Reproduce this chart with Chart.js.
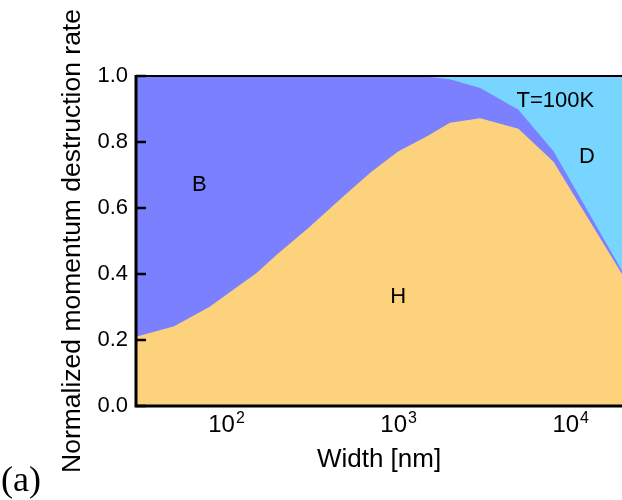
<!DOCTYPE html>
<html>
<head>
<meta charset="utf-8">
<script src="https://cdn.jsdelivr.net/npm/chart.js@4"></script>
<style>
  body { margin: 0; background: #fff; }
  canvas { display: block; }
</style>
</head>
<body>
<canvas id="myChart" width="622" height="500"></canvas>
<script>
// Width of the channel [nm]
const widths = [30, 50, 80, 100, 150, 200, 300, 500, 700, 1000, 1500, 2000, 3000, 5000, 8000, 20000];
// Fractions of the momentum destruction rate (H + B + D = 1)
const hRate = [0.21, 0.242, 0.30, 0.336, 0.402, 0.461, 0.539, 0.643, 0.71, 0.771, 0.82, 0.858, 0.872, 0.84, 0.74, 0.40];
const bRate = [0.79, 0.758, 0.70, 0.664, 0.598, 0.539, 0.461, 0.357, 0.29, 0.229, 0.178, 0.132, 0.092, 0.058, 0.032, 0.01];
const dRate = [0, 0, 0, 0, 0, 0, 0, 0, 0, 0, 0.002, 0.01, 0.036, 0.102, 0.228, 0.59];

const xMajorTicks = [100, 1000, 10000];
const yMajorTicks = [0, 0.2, 0.4, 0.6, 0.8, 1.0];

// region labels: [text, width, rate]
const regionLabels = [
    ['B', 70, 0.67],
    ['H', 1000, 0.33],
    ['T=100K', 8200, 0.924],
    ['D', 12500, 0.755]
];

const colors = {
    H: '#fdd27d',
    B: '#7b80ff',
    D: '#78d5ff'
};

const FONT = '"Liberation Sans", Arial, sans-serif';

// stacked tops, drawn from the top layer down so no seams show
const topB = hRate.map((h, i) => h + bRate[i]);
const topD = topB.map((b, i) => b + dRate[i]);
const toPoints = arr => arr.map((v, i) => ({ x: widths[i], y: v }));

const isMajorY = v => yMajorTicks.some(t => Math.abs(t - v) < 1e-6);

const axesAndLabels = {
    id: 'axesAndLabels',
    afterDraw(chart) {
        const { ctx, chartArea: a, scales: { x, y } } = chart;
        ctx.save();
        ctx.strokeStyle = '#000';
        ctx.fillStyle = '#000';

        // top frame line
        ctx.lineWidth = 2;
        ctx.beginPath();
        ctx.moveTo(a.left, a.top);
        ctx.lineTo(a.right, a.top);
        ctx.stroke();

        // tick marks pointing inward
        ctx.lineWidth = 2.5;
        y.ticks.forEach(t => {
            const py = Math.round(y.getPixelForValue(t.value));
            const len = isMajorY(t.value) ? 10 : 5;
            ctx.beginPath();
            ctx.moveTo(a.left, py);
            ctx.lineTo(a.left + len, py);
            ctx.stroke();
        });
        x.ticks.forEach(t => {
            if (t.value <= x.min || t.value >= x.max) return;
            const px = Math.round(x.getPixelForValue(t.value));
            const len = xMajorTicks.includes(t.value) ? 10 : 6;
            ctx.beginPath();
            ctx.moveTo(px, a.bottom);
            ctx.lineTo(px, a.bottom - len);
            ctx.stroke();
        });

        // spines
        ctx.lineWidth = 3;
        ctx.beginPath();
        ctx.moveTo(a.left, a.top - 1);
        ctx.lineTo(a.left, a.bottom);
        ctx.lineTo(a.right, a.bottom);
        ctx.stroke();

        // x tick labels as 10^n
        xMajorTicks.forEach(v => {
            const px = x.getPixelForValue(v);
            const exp = String(Math.round(Math.log10(v)));
            ctx.font = '24px ' + FONT;
            const wBase = ctx.measureText('10').width;
            ctx.font = '16px ' + FONT;
            const wExp = ctx.measureText(exp).width;
            const x0 = px - (wBase + wExp) / 2;
            ctx.textAlign = 'left';
            ctx.textBaseline = 'alphabetic';
            ctx.font = '24px ' + FONT;
            ctx.fillText('10', x0, a.bottom + 26);
            ctx.font = '16px ' + FONT;
            ctx.fillText(exp, x0 + wBase + 1, a.bottom + 17);
        });

        // region labels
        ctx.font = '22px ' + FONT;
        ctx.textAlign = 'center';
        ctx.textBaseline = 'middle';
        regionLabels.forEach(([text, wx, wy]) => {
            ctx.fillText(text, x.getPixelForValue(wx), y.getPixelForValue(wy));
        });

        // panel letter
        ctx.font = '36px "Liberation Serif", "Times New Roman", serif';
        ctx.textAlign = 'left';
        ctx.textBaseline = 'alphabetic';
        ctx.fillText('(a)', 1, 491);
        ctx.restore();
    }
};

new Chart(document.getElementById('myChart'), {
    type: 'line',
    data: {
        datasets: [
            { label: 'H', data: toPoints(hRate), backgroundColor: colors.H, fill: 'origin' },
            { label: 'B', data: toPoints(topB), backgroundColor: colors.B, fill: 'origin' },
            { label: 'D', data: toPoints(topD), backgroundColor: colors.D, fill: 'origin' }
        ]
    },
    options: {
        responsive: false,
        animation: false,
        devicePixelRatio: 1,
        layout: { padding: { top: 76, right: 0, left: 0, bottom: 0 } },
        elements: {
            point: { radius: 0 },
            line: { borderWidth: 0, tension: 0 }
        },
        plugins: {
            legend: { display: false },
            tooltip: { enabled: false }
        },
        scales: {
            x: {
                type: 'logarithmic',
                min: 30,
                max: 20000,
                grid: { display: false, drawTicks: false },
                border: { display: false },
                ticks: { callback: () => null },
                title: {
                    display: true,
                    text: 'Width [nm]',
                    color: '#000',
                    font: { family: FONT, size: 26 },
                    padding: { top: 0, bottom: 25 }
                },
                afterFit: scale => { scale.height = 94; }
            },
            y: {
                min: 0,
                max: 1,
                grid: { display: false, drawTicks: false },
                border: { display: false },
                ticks: {
                    stepSize: 0.1,
                    padding: 8,
                    color: '#000',
                    font: { family: FONT, size: 22 },
                    callback: v => isMajorY(v) ? v.toFixed(1) : null
                },
                title: {
                    display: true,
                    text: 'Normalized momentum destruction rate',
                    color: '#000',
                    font: { family: FONT, size: 26.5 },
                    padding: { top: 57, bottom: 0 }
                },
                afterFit: scale => { scale.width = 136; }
            }
        }
    },
    plugins: [axesAndLabels]
});
</script>
</body>
</html>
